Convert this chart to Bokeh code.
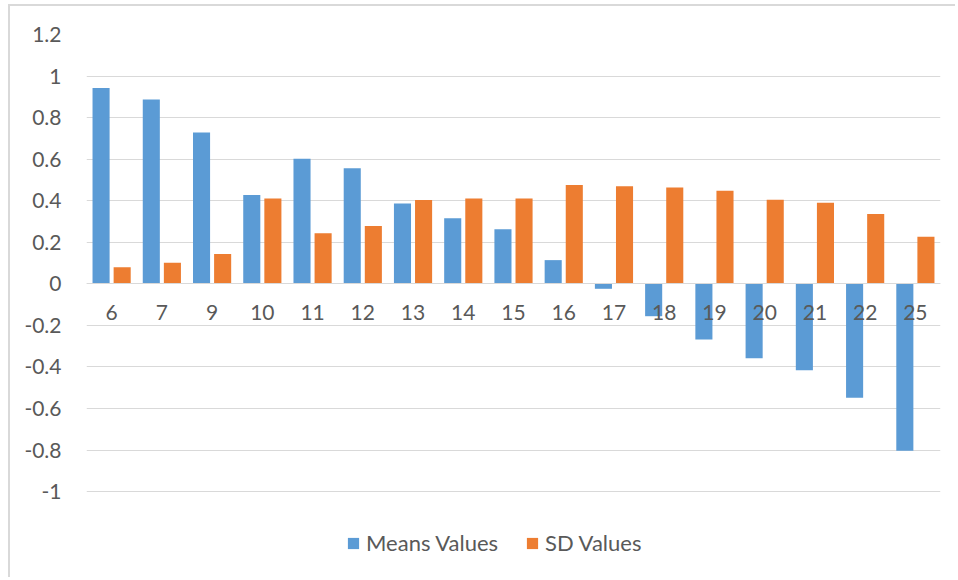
from bokeh.plotting import figure
from bokeh.models import ColumnDataSource, FactorRange, Range1d, FixedTicker, Legend, LegendItem
from bokeh.transform import dodge
from bokeh.embed import file_html
from bokeh.resources import INLINE

categories = ["6", "7", "9", "10", "11", "12", "13", "14", "15", "16", "17",
              "18", "19", "20", "21", "22", "25"]
means_values = [0.943, 0.887, 0.728, 0.427, 0.602, 0.556, 0.387, 0.315, 0.262,
                0.114, -0.024, -0.156, -0.268, -0.358, -0.416, -0.548, -0.803]
sd_values = [0.080, 0.101, 0.143, 0.410, 0.243, 0.278, 0.403, 0.410, 0.410,
             0.476, 0.469, 0.463, 0.448, 0.405, 0.390, 0.336, 0.227]
y_ticks = [-1.0, -0.8, -0.6, -0.4, -0.2, 0.0, 0.2, 0.4, 0.6, 0.8, 1.0, 1.2]
y_tick_labels = ["-1", "-0.8", "-0.6", "-0.4", "-0.2", "0", "0.2", "0.4",
                 "0.6", "0.8", "1", "1.2"]
series_names = ["Means Values", "SD Values"]
colors = ["#5B9BD5", "#ED7D31"]

FONT = "Lato"
TEXT_COLOR = "#595959"
GRID_COLOR = "#d9d9d9"

source = ColumnDataSource(dict(cat=categories, means=means_values, sd=sd_values))

# frame extends below the -1 gridline to hold the legend area
p = figure(width=947, height=573, x_range=FactorRange(*categories),
           y_range=Range1d(-1.38, 1.2), output_backend="svg", toolbar_location=None,
           min_border_left=76, min_border_right=17, min_border_top=28,
           min_border_bottom=9)
p.outline_line_color = None
p.background_fill_color = "white"
p.border_fill_color = "white"
p.styles = {"margin-left": "8px", "margin-top": "4px",
            "border-left": "2px solid #d9d9d9", "border-top": "2px solid #d9d9d9"}

ticker = FixedTicker(ticks=y_ticks)
p.yaxis.ticker = ticker
p.yaxis.major_label_overrides = {t: l for t, l in zip(y_ticks, y_tick_labels)}
p.yaxis.axis_line_color = None
p.yaxis.major_tick_line_color = None
p.yaxis.minor_tick_line_color = None
p.yaxis.major_tick_out = 0
p.yaxis.major_label_standoff = 25
p.yaxis.major_label_text_font = FONT
p.yaxis.major_label_text_font_size = "21px"
p.yaxis.major_label_text_color = TEXT_COLOR

p.xaxis.fixed_location = 0
p.xaxis.axis_line_color = GRID_COLOR
p.xaxis.major_tick_line_color = None
p.xaxis.minor_tick_line_color = None
p.xaxis.major_tick_out = 0
p.xaxis.major_label_standoff = 21
p.xaxis.major_label_text_font = FONT
p.xaxis.major_label_text_font_size = "21px"
p.xaxis.major_label_text_color = TEXT_COLOR

p.xgrid.grid_line_color = None
p.ygrid.ticker = ticker
p.ygrid.grid_line_color = GRID_COLOR
p.ygrid.grid_line_width = 1

r1 = p.vbar(x=dodge("cat", -0.21, range=p.x_range), top="means", bottom=0,
            width=0.34, source=source, fill_color=colors[0], line_color=None)
r2 = p.vbar(x=dodge("cat", 0.21, range=p.x_range), top="sd", bottom=0,
            width=0.34, source=source, fill_color=colors[1], line_color=None)

legend = Legend(items=[LegendItem(label=series_names[0], renderers=[r1]),
                       LegendItem(label=series_names[1], renderers=[r2])],
                orientation="horizontal", location=(260, 14), padding=0,
                margin=0, spacing=27, label_standoff=6, glyph_width=14,
                glyph_height=14, border_line_color=None, background_fill_alpha=0,
                label_text_font=FONT, label_text_font_size="22px",
                label_text_color=TEXT_COLOR)
p.add_layout(legend)

open("out.html", "w").write(file_html(p, INLINE))
